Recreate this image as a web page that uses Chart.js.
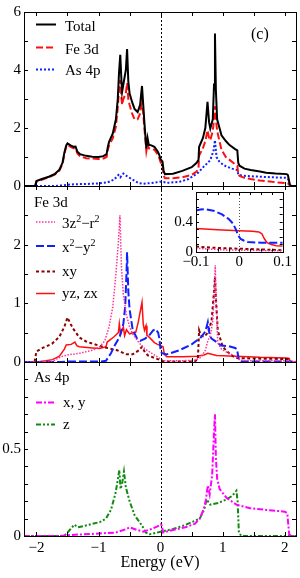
<!DOCTYPE html>
<html>
<head>
<meta charset="utf-8">
<script src="https://cdn.jsdelivr.net/npm/chart.js@4.4.1/dist/chart.umd.min.js"></script>
<style>
body { margin: 0; background: #fff; }
#wrap { position: relative; width: 300px; height: 578px; }
canvas { position: absolute; }
</style>
</head>
<body>
<div id="wrap">
<canvas id="top" width="300" height="578" style="left:0;top:0"></canvas>
<canvas id="mid" width="300" height="578" style="left:0;top:0"></canvas>
<canvas id="bot" width="300" height="578" style="left:0;top:0"></canvas>
<canvas id="ins" width="140" height="95" style="left:160px;top:180px"></canvas>
</div>
<script>
// energy (eV), DOS
var total = [[-2.2,0],[-2.02,0],[-2.0,0.17],[-1.9,0.25],[-1.8,0.32],[-1.7,0.42],[-1.63,0.56],[-1.58,0.8],[-1.55,1.15],[-1.52,1.4],[-1.5,1.47],[-1.45,1.4],[-1.4,1.35],[-1.37,1.36],[-1.34,1.18],[-1.3,1.1],[-1.2,1.04],[-1.1,1.01],[-1.0,1.0],[-0.92,1.03],[-0.87,1.1],[-0.85,1.35],[-0.83,1.52],[-0.77,1.81],[-0.72,2.3],[-0.69,3.0],[-0.67,3.9],[-0.65,4.52],[-0.63,3.6],[-0.62,3.25],[-0.6,3.5],[-0.56,4.0],[-0.54,4.72],[-0.52,3.6],[-0.5,3.2],[-0.46,2.9],[-0.42,2.66],[-0.37,2.55],[-0.33,2.8],[-0.3,3.45],[-0.28,2.8],[-0.26,2.15],[-0.23,1.3],[-0.21,1.65],[-0.19,1.42],[-0.15,1.4],[-0.1,1.35],[-0.05,1.2],[-0.03,1.12],[0.0,0.92],[0.03,0.85],[0.05,0.5],[0.07,0.41],[0.2,0.42],[0.35,0.52],[0.5,0.65],[0.58,0.8],[0.61,0.9],[0.62,1.35],[0.68,1.65],[0.72,2.0],[0.755,2.9],[0.78,2.2],[0.8,1.98],[0.84,2.3],[0.86,3.5],[0.875,5.26],[0.89,3.3],[0.91,2.3],[0.98,1.75],[1.05,1.55],[1.11,1.41],[1.2,1.27],[1.235,1.23],[1.25,0.8],[1.27,0.7],[1.35,0.6],[1.45,0.55],[1.6,0.5],[1.7,0.46],[1.85,0.43],[2.03,0.41],[2.05,0.38],[2.08,0.05],[2.1,0],[2.2,0]];
var fe3d = [[-2.2,0],[-2.02,0],[-2.0,0.15],[-1.8,0.3],[-1.7,0.4],[-1.63,0.53],[-1.58,0.75],[-1.55,1.1],[-1.52,1.35],[-1.5,1.42],[-1.45,1.35],[-1.4,1.3],[-1.37,1.3],[-1.34,1.12],[-1.3,1.03],[-1.2,0.96],[-1.0,0.93],[-0.92,0.95],[-0.87,1.0],[-0.85,1.25],[-0.83,1.4],[-0.77,1.65],[-0.72,2.05],[-0.69,2.7],[-0.67,3.3],[-0.65,3.65],[-0.63,3.0],[-0.62,2.8],[-0.6,3.0],[-0.56,3.2],[-0.54,3.55],[-0.52,3.0],[-0.5,2.8],[-0.46,2.5],[-0.42,2.3],[-0.37,2.3],[-0.33,2.5],[-0.3,3.0],[-0.28,2.5],[-0.26,1.95],[-0.23,1.2],[-0.21,1.45],[-0.19,1.3],[-0.15,1.28],[-0.1,1.25],[-0.05,1.1],[-0.03,1.02],[0.0,0.82],[0.03,0.72],[0.05,0.35],[0.07,0.27],[0.2,0.27],[0.35,0.3],[0.5,0.38],[0.58,0.5],[0.61,0.6],[0.62,1.05],[0.68,1.3],[0.72,1.55],[0.755,1.92],[0.78,1.65],[0.8,1.58],[0.84,1.9],[0.86,2.3],[0.875,2.75],[0.89,2.3],[0.91,1.9],[0.98,1.25],[1.05,1.0],[1.11,0.9],[1.2,0.75],[1.235,0.7],[1.25,0.4],[1.27,0.35],[1.35,0.28],[1.45,0.24],[1.6,0.19],[1.7,0.17],[1.85,0.13],[2.03,0.1],[2.05,0.09],[2.08,0.02],[2.1,0],[2.2,0]];
var as4p = [[-2.2,0],[-1.7,0],[-1.6,0.02],[-1.4,0.06],[-1.2,0.07],[-1.0,0.09],[-0.85,0.13],[-0.75,0.22],[-0.68,0.38],[-0.65,0.3],[-0.6,0.43],[-0.55,0.35],[-0.45,0.22],[-0.35,0.1],[-0.28,0.08],[-0.15,0.1],[0.0,0.15],[0.05,0.14],[0.1,0.11],[0.3,0.14],[0.45,0.24],[0.6,0.45],[0.7,0.68],[0.76,0.8],[0.8,0.9],[0.85,1.2],[0.875,1.58],[0.9,1.0],[0.95,0.82],[1.05,0.68],[1.15,0.6],[1.235,0.55],[1.25,0.4],[1.3,0.36],[1.5,0.33],[1.8,0.3],[2.03,0.28],[2.05,0.26],[2.08,0.02],[2.1,0],[2.2,0]];

var z2r2 = [[-2.2,0],[-1.75,0],[-1.68,0.05],[-1.6,0.09],[-1.5,0.12],[-1.3,0.15],[-1.1,0.2],[-0.98,0.26],[-0.9,0.36],[-0.83,0.6],[-0.77,0.94],[-0.72,1.5],[-0.68,2.05],[-0.655,2.5],[-0.63,1.6],[-0.6,1.15],[-0.55,0.8],[-0.5,0.6],[-0.45,0.48],[-0.35,0.33],[-0.25,0.22],[-0.1,0.12],[0.0,0.05],[0.05,0.02],[0.3,0.02],[0.55,0.03],[0.65,0.08],[0.72,0.2],[0.76,0.36],[0.8,0.45],[0.84,0.7],[0.865,1.2],[0.88,1.65],[0.895,1.0],[0.92,0.33],[0.98,0.22],[1.06,0.17],[1.2,0.1],[1.28,0.03],[1.5,0.02],[2.05,0.02],[2.08,0],[2.2,0]];
var x2y2 = [[-2.2,0],[-1.6,0],[-1.5,0.01],[-0.95,0.01],[-0.88,0.02],[-0.8,0.15],[-0.74,0.28],[-0.66,0.43],[-0.6,0.65],[-0.57,0.95],[-0.55,1.5],[-0.54,1.87],[-0.52,1.2],[-0.5,0.9],[-0.45,0.55],[-0.38,0.4],[-0.33,0.36],[-0.25,0.4],[-0.18,0.46],[-0.12,0.54],[-0.08,0.56],[-0.04,0.5],[-0.02,0.4],[0.0,0.2],[0.02,0.15],[0.1,0.13],[0.3,0.2],[0.5,0.3],[0.65,0.42],[0.72,0.52],[0.76,0.68],[0.79,0.45],[0.82,0.4],[0.9,0.34],[0.97,0.28],[1.1,0.27],[1.2,0.24],[1.23,0.22],[1.26,0.03],[1.3,0.01],[2.2,0.01]];
var xy = [[-2.2,0],[-2.03,0],[-2.0,0.18],[-1.9,0.24],[-1.75,0.31],[-1.63,0.43],[-1.55,0.6],[-1.5,0.76],[-1.45,0.65],[-1.41,0.57],[-1.31,0.42],[-1.2,0.35],[-1.09,0.31],[-0.9,0.25],[-0.7,0.2],[-0.55,0.13],[-0.45,0.13],[-0.35,0.2],[-0.3,0.26],[-0.25,0.16],[-0.2,0.11],[-0.1,0.07],[0.0,0.03],[0.05,0.01],[0.55,0.01],[0.6,0.05],[0.62,0.54],[0.65,0.45],[0.7,0.43],[0.76,0.5],[0.82,0.7],[0.86,1.2],[0.875,1.45],[0.89,1.1],[0.92,0.54],[1.0,0.26],[1.11,0.14],[1.2,0.07],[1.44,0.06],[2.05,0.05],[2.08,0],[2.2,0]];
var yzzx = [[-2.2,0],[-2.0,0],[-1.85,0.02],[-1.74,0.04],[-1.63,0.1],[-1.55,0.22],[-1.52,0.29],[-1.44,0.3],[-1.38,0.34],[-1.35,0.28],[-1.31,0.26],[-1.1,0.24],[-0.98,0.23],[-0.88,0.26],[-0.86,0.34],[-0.75,0.43],[-0.68,0.5],[-0.665,0.65],[-0.645,0.47],[-0.6,0.6],[-0.58,0.45],[-0.55,0.55],[-0.5,0.48],[-0.4,0.51],[-0.36,0.68],[-0.3,1.02],[-0.28,0.65],[-0.26,0.54],[-0.235,0.62],[-0.22,0.45],[-0.2,0.44],[-0.1,0.33],[-0.05,0.3],[0.0,0.28],[0.04,0.26],[0.06,0.13],[0.1,0.09],[0.36,0.09],[0.58,0.1],[0.7,0.12],[0.76,0.15],[0.9,0.11],[1.21,0.1],[1.6,0.08],[2.03,0.07],[2.07,0.06],[2.09,0],[2.2,0]];

var pxy = [[-2.2,0],[-1.6,0],[-1.5,0.005],[-1.0,0.014],[-0.72,0.02],[-0.55,0.04],[-0.5,0.05],[-0.38,0.035],[-0.28,0.025],[-0.15,0.04],[-0.05,0.055],[0.0,0.067],[0.02,0.06],[0.04,0.02],[0.2,0.035],[0.4,0.05],[0.55,0.07],[0.63,0.1],[0.7,0.16],[0.73,0.21],[0.76,0.29],[0.79,0.24],[0.83,0.35],[0.86,0.6],[0.875,0.7],[0.89,0.45],[0.91,0.33],[0.95,0.27],[1.06,0.22],[1.22,0.18],[1.44,0.16],[1.7,0.15],[2.0,0.14],[2.04,0.13],[2.07,0.01],[2.1,0],[2.2,0]];
var pz = [[-2.2,0],[-1.55,0],[-1.45,0.04],[-1.39,0.065],[-1.33,0.05],[-1.15,0.065],[-0.98,0.08],[-0.88,0.1],[-0.8,0.15],[-0.73,0.24],[-0.7,0.3],[-0.665,0.38],[-0.645,0.27],[-0.62,0.3],[-0.59,0.37],[-0.56,0.28],[-0.5,0.2],[-0.42,0.12],[-0.3,0.06],[-0.24,0.02],[-0.18,0.01],[-0.05,0.02],[0.0,0.025],[0.2,0.04],[0.41,0.065],[0.63,0.1],[0.7,0.15],[0.74,0.21],[0.8,0.18],[0.93,0.19],[1.06,0.21],[1.15,0.23],[1.22,0.26],[1.24,0.2],[1.26,0.02],[1.3,0],[2.2,0]];

// inset, near the Fermi level
var inZ2 = [[-0.1,0.045],[-0.07,0.035],[-0.04,0.025],[0,0.02],[0.05,0.015],[0.1,0.01]];
var inX2 = [[-0.1,0.55],[-0.09,0.565],[-0.08,0.57],[-0.06,0.55],[-0.04,0.5],[-0.025,0.44],[-0.015,0.38],[-0.008,0.3],[-0.003,0.22],[0.003,0.17],[0.01,0.15],[0.02,0.13],[0.05,0.12],[0.1,0.12]];
var inXY = [[-0.1,0.07],[-0.08,0.06],[-0.05,0.05],[0,0.04],[0.05,0.03],[0.1,0.02]];
var inYZ = [[-0.1,0.31],[-0.07,0.3],[-0.04,0.29],[0,0.28],[0.03,0.275],[0.045,0.265],[0.052,0.24],[0.058,0.17],[0.064,0.12],[0.072,0.1],[0.085,0.08],[0.1,0.075]];

Chart.defaults.font.family = "'Liberation Serif', 'DejaVu Serif', serif";
Chart.defaults.font.size = 15;
Chart.defaults.color = '#000';

var RED = '#ff1010', BLUE = '#1020ff', PINK = '#ff3399', DKRED = '#8b0000', MAG = '#ff00ff', GREEN = '#108a10';
var SERIF = "'Liberation Serif', serif";

function pts(a) { return a.map(function(p) { return {x: p[0], y: p[1]}; }); }
function ser(label, data, color, dash, w) {
  return {label: label, data: pts(data), borderColor: color, borderDash: dash, borderWidth: w || 2,
          pointRadius: 0, fill: false, tension: 0};
}
function fmt(v) {
  v = Math.round(v * 100) / 100;
  if (v === 0) return '0';
  return (v < 0 ? '\u2212' : '') + Math.abs(v);
}

// box, inward ticks and the dotted E=0 line
var frame = {
  id: 'frame',
  beforeDatasetsDraw: function(chart, args, o) {
    var ctx = chart.ctx, a = chart.chartArea;
    ctx.save();
    if (o.bg) { ctx.fillStyle = '#fff'; ctx.fillRect(a.left, a.top, a.right - a.left, a.bottom - a.top); }
    var x0 = Math.round(chart.scales.x.getPixelForValue(0)) + 0.5;
    ctx.strokeStyle = o.zeroColor || '#000';
    ctx.lineWidth = 1;
    ctx.setLineDash(o.zeroDash || [2, 2]);
    ctx.beginPath(); ctx.moveTo(x0, a.top); ctx.lineTo(x0, a.bottom); ctx.stroke();
    ctx.restore();
  },
  afterDatasetsDraw: function(chart, args, o) {
    var ctx = chart.ctx, a = chart.chartArea, sx = chart.scales.x, sy = chart.scales.y;
    var L = o.len || 4, i, p;
    ctx.save();
    ctx.strokeStyle = '#000'; ctx.lineWidth = 1; ctx.setLineDash([]);
    ctx.beginPath();
    var i0 = Math.ceil(sx.min / o.xStep - 1e-6);
    for (i = i0; i * o.xStep <= sx.max + 1e-6; i++) {
      p = Math.round(sx.getPixelForValue(i * o.xStep)) + 0.5;
      ctx.moveTo(p, a.top); ctx.lineTo(p, a.top + L);
      ctx.moveTo(p, a.bottom); ctx.lineTo(p, a.bottom - L);
    }
    for (i = 1; i * o.yStep < sy.max - 1e-6; i++) {
      p = Math.round(sy.getPixelForValue(i * o.yStep)) + 0.5;
      ctx.moveTo(a.left, p); ctx.lineTo(a.left + L, p);
      ctx.moveTo(a.right, p); ctx.lineTo(a.right - L, p);
    }
    ctx.stroke();
    ctx.strokeRect(Math.round(a.left) + 0.5, Math.round(a.top) + 0.5,
                   Math.round(a.right - a.left), Math.round(a.bottom - a.top));
    ctx.restore();
  }
};

// hand placed legend + labels; "rich" parts are [text, isSuperscript]
var notes = {
  id: 'notes',
  afterDatasetsDraw: function(chart, args, o) {
    var ctx = chart.ctx;
    ctx.save();
    ctx.textBaseline = 'alphabetic';
    ctx.textAlign = 'left';
    ctx.fillStyle = '#000';
    (o.keys || []).forEach(function(k) {
      var ds = chart.data.datasets[k.i];
      ctx.strokeStyle = ds.borderColor;
      ctx.lineWidth = ds.borderWidth;
      ctx.setLineDash(ds.borderDash || []);
      ctx.beginPath(); ctx.moveTo(o.x0, k.y); ctx.lineTo(o.x1, k.y); ctx.stroke();
      var x = o.tx;
      (k.rich || [[ds.label, 0]]).forEach(function(r) {
        ctx.font = (r[1] ? 10 : 15) + 'px ' + SERIF;
        ctx.fillText(r[0], x, k.base - (r[1] ? 6 : 0));
        x += ctx.measureText(r[0]).width;
      });
    });
    (o.texts || []).forEach(function(t) {
      ctx.font = (t.size || 15) + 'px ' + SERIF;
      ctx.fillText(t.text, t.x, t.y);
    });
    ctx.restore();
  }
};

function yAxis(max, step, hide, width) {
  return {
    min: 0, max: max,
    afterFit: function(s) { s.width = width || 24; },
    grid: {display: false, drawTicks: false},
    border: {display: false},
    ticks: {stepSize: step, padding: 3, callback: function(v) {
      return Math.abs(v - hide) < 1e-6 ? '' : fmt(v);
    }}
  };
}
function xHidden() {
  return {type: 'linear', min: -2.2, max: 2.18, display: false};
}

function panel(id, datasets, pad, yax, xax, fr, nt) {
  return new Chart(document.getElementById(id), {
    type: 'line',
    data: {datasets: datasets},
    options: {
      responsive: false, animation: false, devicePixelRatio: 1,
      layout: {padding: pad},
      scales: {x: xax, y: yax},
      plugins: {legend: {display: false}, tooltip: {enabled: false}, frame: fr, notes: nt}
    },
    plugins: [frame, notes]
  });
}

panel('top',
  [ser('Total', total, '#000', [], 2), ser('Fe 3d', fe3d, RED, [7, 3], 2), ser('As 4p', as4p, BLUE, [2, 2], 2)],
  {top: 11, bottom: 392, left: 0, right: 4},
  yAxis(6, 2, -1), xHidden(),
  {xStep: 0.5, yStep: 1},
  {x0: 36, x1: 56, tx: 65,
   keys: [{i: 0, y: 24.5, base: 30.5}, {i: 1, y: 47.5, base: 53.5}, {i: 2, y: 69.5, base: 74.5}],
   texts: [{text: '(c)', x: 251, y: 39, size: 16}]});

panel('mid',
  [ser('3z\u00b2\u2212r\u00b2', z2r2, PINK, [1.5, 1.5], 1.5), ser('x\u00b2\u2212y\u00b2', x2y2, BLUE, [8, 3], 2),
   ser('xy', xy, DKRED, [3, 2.5], 2), ser('yz, zx', yzzx, RED, [], 1.5)],
  {top: 186, bottom: 216, left: 0, right: 4},
  yAxis(3, 1, 3), xHidden(),
  {xStep: 0.5, yStep: 0.5},
  {x0: 36, x1: 55, tx: 62,
   keys: [{i: 0, y: 222, base: 228, rich: [['3z', 0], ['2', 1], ['\u2212r', 0], ['2', 1]]},
          {i: 1, y: 246, base: 252, rich: [['x', 0], ['2', 1], ['\u2212y', 0], ['2', 1]]},
          {i: 2, y: 271.5, base: 276}, {i: 3, y: 293.5, base: 298}],
   texts: [{text: 'Fe 3d', x: 34, y: 207}]});

panel('bot',
  [ser('x, y', pxy, MAG, [6, 2, 2, 2], 2), ser('z', pz, GREEN, [5, 2, 2, 2, 2, 2], 2)],
  {top: 362, bottom: 0, left: 0, right: 4},
  yAxis(1, 0.5, 1),
  {type: 'linear', min: -2.2, max: 2.18,
   afterFit: function(s) { s.height = 42; },
   grid: {display: false, drawTicks: false}, border: {display: false},
   ticks: {stepSize: 1, includeBounds: false, padding: 3, callback: function(v) { return fmt(v); }},
   title: {display: true, text: 'Energy (eV)', font: {size: 16}, padding: {top: 0, bottom: 6}}},
  {xStep: 0.5, yStep: 0.1},
  {x0: 36, x1: 55, tx: 63,
   keys: [{i: 0, y: 402.5, base: 407}, {i: 1, y: 424.5, base: 428.5}],
   texts: [{text: 'As 4p', x: 34, y: 381.5}]});

// inset
new Chart(document.getElementById('ins'), {
  type: 'line',
  data: {datasets: [ser('3z2-r2', inZ2, PINK, [1.5, 1.5], 1.5), ser('x2-y2', inX2, BLUE, [8, 3], 2),
                    ser('xy', inXY, DKRED, [3, 2.5], 2), ser('yz, zx', inYZ, RED, [], 1.5)]},
  options: {
    responsive: false, animation: false, devicePixelRatio: 1,
    layout: {padding: {top: 9.5, right: 17.3, left: 0, bottom: 0}},
    scales: {
      x: {type: 'linear', min: -0.1, max: 0.1,
          afterFit: function(s) { s.height = 23.3; },
          grid: {display: false, drawTicks: false}, border: {display: false},
          ticks: {stepSize: 0.1, includeBounds: false, padding: 1, callback: function(v) { return fmt(v); }}},
      y: yAxis(0.8, 0.4, 0.8, 36)
    },
    plugins: {legend: {display: false}, tooltip: {enabled: false},
              frame: {xStep: 0.025, yStep: 0.1, len: 3, bg: true, zeroColor: '#555', zeroDash: [1, 2]}}
  },
  plugins: [frame]
});
</script>
</body>
</html>
